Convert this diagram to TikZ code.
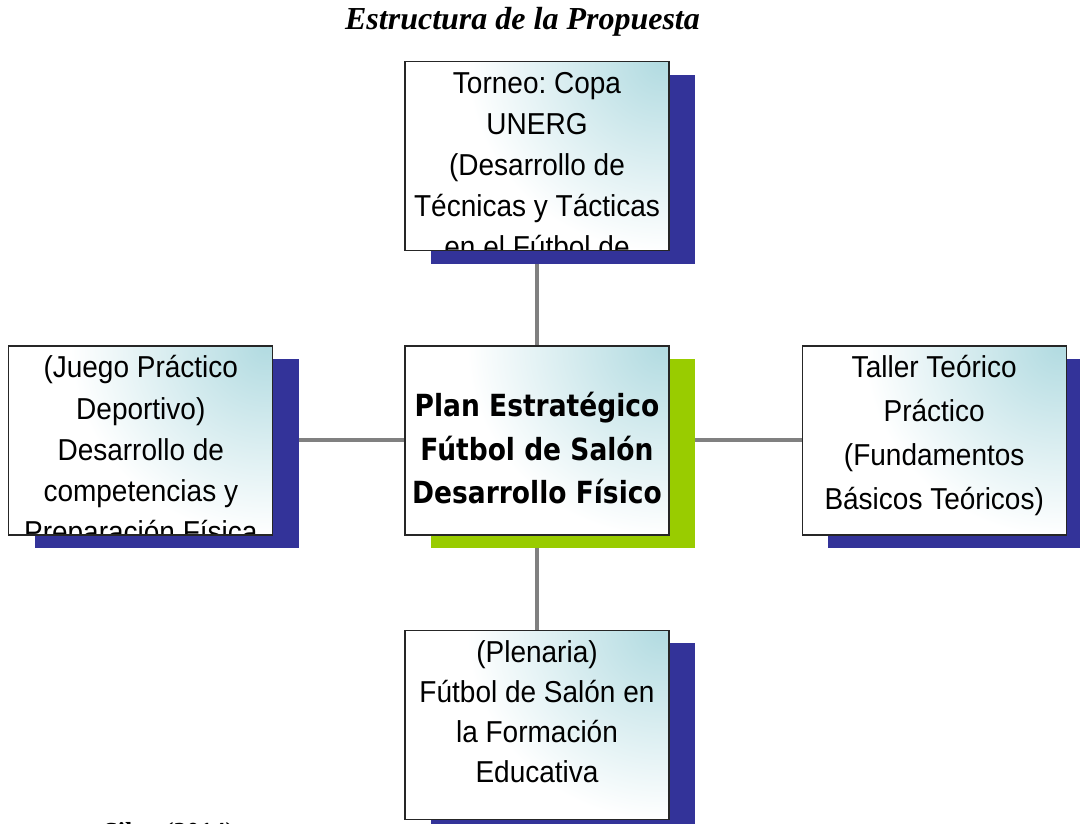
\documentclass[tikz,border=0pt]{standalone}
\usepackage{fontspec}
\setmainfont{Liberation Sans}
\newfontfamily\titulofont{Liberation Serif}
\newfontfamily\planfont{DejaVu Sans}
\usetikzlibrary{positioning, shadows, backgrounds}
\frenchspacing

\definecolor{sombra}{RGB}{51,51,153}
\definecolor{verde}{RGB}{153,204,0}
\definecolor{celeste}{RGB}{178,219,225}
\pgfdeclareradialshading{esquina}{\pgfpoint{0bp}{0bp}}{color(0bp)=(celeste); color(19bp)=(white); color(50bp)=(white)}

\tikzset{
  caja/.style={draw=black!85, line width=1.2pt, rectangle, minimum width=264pt, minimum height=189pt, inner sep=0pt,
    fill=white, drop shadow={shadow xshift=26pt, shadow yshift=-13pt, opacity=1, fill=sombra}},
  centro/.style={caja, drop shadow={shadow xshift=26pt, shadow yshift=-13pt, opacity=1, fill=verde}},
  degradado/.style={shading=esquina},
  % degradado desde la esquina superior derecha y texto recortado por la caja
  contenido/.style 2 args={path picture={
    \shade[degradado] (path picture bounding box.north east) circle (250pt);
    \node[anchor=base, inner sep=0pt, font=\fontsize{28}{#1}\selectfont] (texto)
      at ([yshift=-32pt]path picture bounding box.north) {\scalebox{1}[1.08]{\begin{tabular}[t]{@{}c@{}}#2\end{tabular}}};}},
  conector/.style={draw=black!50, line width=4pt}
}

\begin{document}
\begin{tikzpicture}[x=1pt, y=1pt, node distance=94pt]
  \useasboundingbox (0,0) rectangle (1080,823);
  \node[anchor=base] (titulo) at (522.5,793) {\titulofont\bfseries\itshape\fontsize{32}{38}\selectfont Estructura de la Propuesta};
  \node[centro, path picture={
      \shade[degradado] (path picture bounding box.north east) circle (250pt);
      \node[anchor=base, inner sep=0pt, font=\planfont\bfseries\fontsize{26.5}{37.5}\selectfont] (textoplan)
      at ([yshift=-71pt]path picture bounding box.north) {\scalebox{1}[1.15]{\begin{tabular}[t]{@{}c@{}}Plan Estratégico\\Fútbol de Salón\\Desarrollo Físico\end{tabular}}};}] (plan) at (537,382.5) {};
  \node[caja, contenido={38pt}{Torneo: Copa\\UNERG\\(Desarrollo de\\Técnicas y Tácticas\\en el Fútbol de}] (torneo) [above=of plan] {};
  \node[caja, contenido={37pt}{(Plenaria)\\Fútbol de Salón en\\la Formación\\Educativa}] (plenaria) [below=of plan] {};
  \node[caja, contenido={38pt}{(Juego Práctico\\Deportivo)\\Desarrollo de\\competencias y\\Preparación Física}] (juego) [left=131pt of plan] {};
  \node[caja, contenido={40.5pt}{Taller Teórico\\Práctico\\(Fundamentos\\Básicos Teóricos)}] (taller) [right=132pt of plan] {};
  \node[anchor=base west] (fuente) at (100,-17) {\titulofont\bfseries\fontsize{26}{30}\selectfont Silva (2014)};
  \begin{pgfonlayer}{background}
    \draw[conector] (plan) -- (torneo);
    \draw[conector] (plan) -- (plenaria);
    \draw[conector] (plan) -- (juego);
    \draw[conector] (plan) -- (taller);
  \end{pgfonlayer}
\end{tikzpicture}
\end{document}
